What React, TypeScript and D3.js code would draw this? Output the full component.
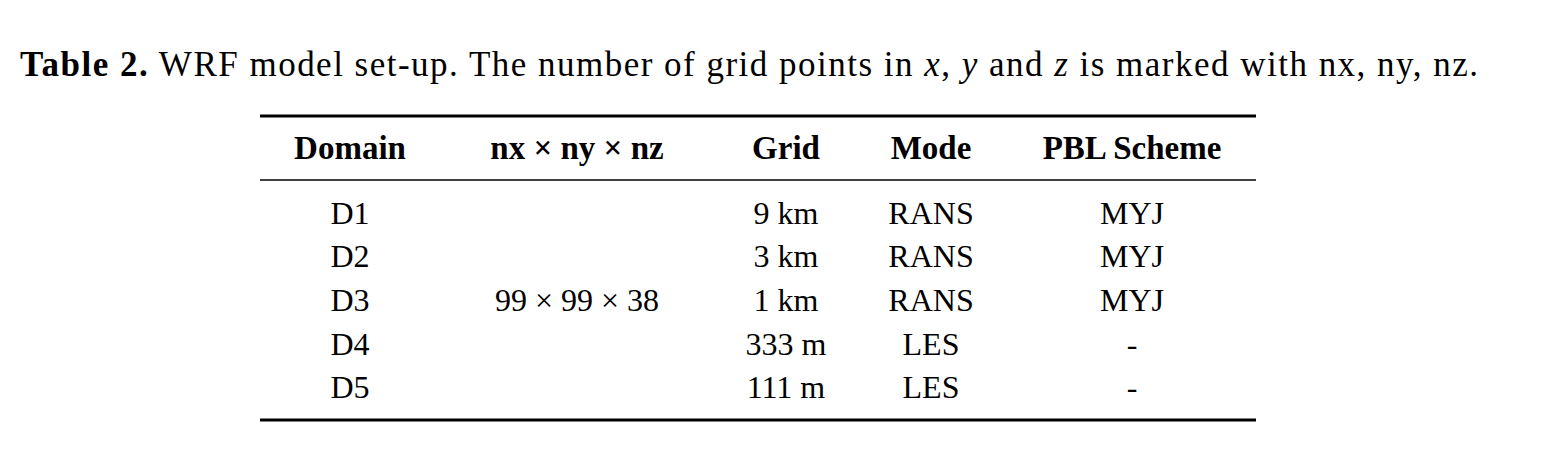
import React from "react";
import * as d3 from "d3";

const headers = ["Domain", "nx × ny × nz", "Grid", "Mode", "PBL Scheme"];
const domains = ["D1", "D2", "D3", "D4", "D5"];
const gridPoints = ["", "", "99 × 99 × 38", "", ""];
const grids = ["9 km", "3 km", "1 km", "333 m", "111 m"];
const modes = ["RANS", "RANS", "RANS", "LES", "LES"];
const pbl = ["MYJ", "MYJ", "MYJ", "-", "-"];

export default function App() {
  const W = 1556, H = 473;
  const centers: Record<string, number> = {
    "Domain": 350, "nx × ny × nz": 577, "Grid": 786, "Mode": 931, "PBL Scheme": 1132,
  };
  const y = d3.scaleBand<number>().domain(d3.range(5)).range([191, 409]);
  const cols = [domains, gridPoints, grids, modes, pbl];
  const font = "'Liberation Serif', 'DejaVu Serif', serif";
  return (
    <svg width={W} height={H} style={{ position: "absolute", left: 0, top: 0, background: "#fff" }}>
      <text x={20} y={76} fontFamily={font} fontSize={35} fill="#000" textLength={1458} lengthAdjust="spacing">
        <tspan fontWeight="bold">Table 2.</tspan>
        <tspan> WRF model set-up. The number of grid points in </tspan>
        <tspan fontStyle="italic">x</tspan><tspan>, </tspan>
        <tspan fontStyle="italic">y</tspan><tspan> and </tspan>
        <tspan fontStyle="italic">z</tspan><tspan> is marked with nx, ny, nz.</tspan>
      </text>
      <line x1={260} x2={1256} y1={116} y2={116} stroke="#000" strokeWidth={3} />
      {headers.map((h) => (
        <text key={h} x={centers[h]} y={159} textAnchor="middle" fontFamily={font} fontWeight="bold" fontSize={33}>{h}</text>
      ))}
      <line x1={260} x2={1256} y1={180} y2={180} stroke="#000" strokeWidth={1.6} />
      {cols.map((col, ci) =>
        col.map((v, ri) => (
          <text key={ci + "-" + ri} x={centers[headers[ci]]} y={(y(ri) as number) + y.bandwidth() / 2 + 11}
            textAnchor="middle" fontFamily={font} fontSize={32}>{v}</text>
        ))
      )}
      <line x1={260} x2={1256} y1={420} y2={420} stroke="#000" strokeWidth={3} />
    </svg>
  );
}
